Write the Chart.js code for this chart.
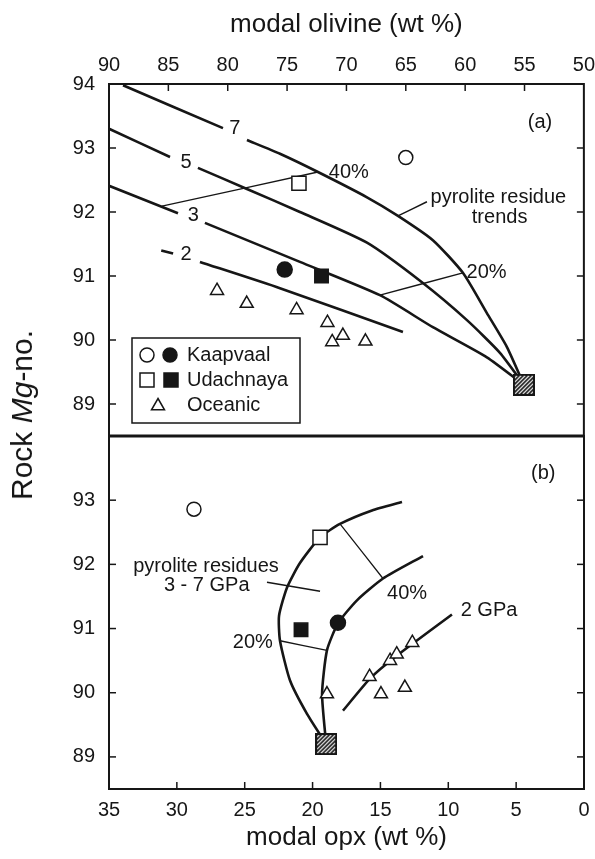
<!DOCTYPE html>
<html>
<head>
<meta charset="utf-8">
<script src="https://cdn.jsdelivr.net/npm/chart.js@4.4.1/dist/chart.umd.min.js"></script>
<style>
  html, body { margin: 0; padding: 0; background: #fff; }
  #wrap { position: relative; width: 595px; height: 859px; overflow: hidden; }
  canvas { position: absolute; left: 0; }
  #chartA { top: 0; }
  #chartB { top: 430px; }
  #ylab {
    position: absolute; left: 22px; top: 415px;
    transform: translate(-50%, -50%) rotate(-90deg);
    font: 30px 'Liberation Sans', Arial, sans-serif; color: #161616; white-space: nowrap;
  }
</style>
</head>
<body>
<div id="wrap">
  <canvas id="chartA" width="595" height="440"></canvas>
  <canvas id="chartB" width="595" height="429"></canvas>
  <div id="ylab">Rock <i>Mg</i>-no.</div>
</div>
<script>
// ---- panel (a): modal olivine vs Mg-no. ----
const oliveTicks = [50, 55, 60, 65, 70, 75, 80, 85, 90];
const mgTicksA = [89, 90, 91, 92, 93, 94];

const kaapOpenA = [[65.0, 92.85]];
const kaapFilledA = [[75.2, 91.1]];
const udachOpenA = [[74.0, 92.45]];
const udachFilledA = [[72.1, 91.0]];
const oceanicA = [[80.9, 90.77], [78.4, 90.57], [74.2, 90.47], [71.6, 90.27], [70.3, 90.07], [71.2, 89.97], [68.4, 89.98]];
const pyroliteA = [[55.05, 89.3]];

// residue trends, null = gap left for the pressure label
const trend7 = [[88.82, 93.98], [80.4, 93.31], null, [78.38, 93.125], [75.6, 92.91], [72.4, 92.625], [68.27, 92.23], [65.66, 91.94], [62.72, 91.56], [60.19, 91.05], [58.17, 90.42], [56.48, 89.89], [55.05, 89.3]];
const trend5 = [[90, 93.3], [84.86, 92.86], null, [82.51, 92.69], [78.38, 92.36], [73.92, 92.0], [68.27, 91.52], [63.56, 90.89], [59.85, 90.31], [57.07, 89.8], [55.05, 89.3]];
const trend3 = [[90, 92.41], [84.19, 91.98], null, [81.92, 91.83], [73.92, 91.22], [67.18, 90.7], [62.72, 90.2], [58.17, 89.73], [55.05, 89.3]];
const trend2 = [[85.6, 91.4], [84.6, 91.35], null, [82.34, 91.22], [75.6, 90.81], [65.24, 90.125]];
const tie40A = [[85.54, 92.09], [72.4, 92.625]];
const tie20A = [[67.18, 90.7], [60.19, 91.05]];
const leaderA = [[65.66, 91.94], [63.22, 92.16]];

// ---- panel (b): modal opx vs Mg-no. ----
const opxTicks = [0, 5, 10, 15, 20, 25, 30, 35];
const mgTicksB = [89, 90, 91, 92, 93];

const kaapOpenB = [[28.74, 92.86]];
const kaapFilledB = [[18.13, 91.09]];
const udachOpenB = [[19.45, 92.42]];
const udachFilledB = [[20.85, 90.98]];
const oceanicB = [[18.94, 89.98], [15.8, 90.25], [14.29, 90.5], [13.8, 90.6], [12.65, 90.78], [14.96, 89.98], [13.2, 90.08]];
const pyroliteB = [[19.0, 89.2]];

const outerB = [[13.41, 92.97], [15.62, 92.84], [17.98, 92.63], [19.45, 92.42], [20.93, 92.02], [21.88, 91.64], [22.47, 91.2], [22.4, 90.81], [21.66, 90.19], [20.41, 89.67], [19.0, 89.2]];
const innerB = [[11.86, 92.13], [14.81, 91.78], [16.73, 91.44], [18.13, 91.08], [18.94, 90.66], [19.3, 89.98], [19.0, 89.2]];
const gpa2B = [[17.76, 89.72], [15.77, 90.22], [13.78, 90.58], [9.73, 91.22]];
const tie40B = [[17.98, 92.63], [14.81, 91.78]];
const tie20B = [[22.4, 90.81], [18.94, 90.66]];
const leaderB = [[23.36, 91.72], [19.45, 91.58]];

const INK = '#161616';
const FONT = "'Liberation Sans', Arial, sans-serif";

const toXY = pts => pts.map(p => p ? { x: p[0], y: p[1] } : { x: null, y: null });

function marks(pts, style, fill, r) {
  return {
    data: toXY(pts), showLine: false, order: 0,
    pointStyle: style, pointRadius: r, pointHoverRadius: r,
    pointBackgroundColor: fill, pointBorderColor: INK, pointBorderWidth: 1.5
  };
}
function curve(pts, w) {
  return {
    data: toXY(pts), showLine: true, spanGaps: false, order: 10,
    pointRadius: 0, borderColor: INK, borderWidth: w, tension: 0.2
  };
}

function hatchSquare(size) {
  const c = document.createElement('canvas');
  c.width = size; c.height = size;
  const g = c.getContext('2d');
  g.fillStyle = '#fff';
  g.fillRect(0, 0, size, size);
  g.save();
  g.beginPath(); g.rect(0, 0, size, size); g.clip();
  g.strokeStyle = INK; g.lineWidth = 1.6;
  for (let k = -size; k < size * 2; k += 4) {
    g.beginPath(); g.moveTo(k, size); g.lineTo(k + size, 0); g.stroke();
  }
  g.restore();
  g.strokeStyle = INK; g.lineWidth = 2;
  g.strokeRect(1, 1, size - 2, size - 2);
  return c;
}
const hatch = hatchSquare(22);

function symbol(ctx, kind, x, y, fill) {
  ctx.beginPath();
  if (kind === 'circle') ctx.arc(x, y, 7, 0, Math.PI * 2);
  else if (kind === 'rect') ctx.rect(x - 7, y - 7, 14, 14);
  else { ctx.moveTo(x, y - 7.5); ctx.lineTo(x + 6.5, y + 3.75); ctx.lineTo(x - 6.5, y + 3.75); ctx.closePath(); }
  ctx.fillStyle = fill; ctx.fill();
  ctx.lineWidth = 1.5; ctx.strokeStyle = INK; ctx.stroke();
}

const paperPlugin = {
  id: 'paper',
  afterDraw(chart, args, opts) {
    const { ctx, chartArea: a, scales } = chart;
    const sx = scales.x, sy = scales.y;
    const seg = (x1, y1, x2, y2) => { ctx.beginPath(); ctx.moveTo(x1, y1); ctx.lineTo(x2, y2); ctx.stroke(); };
    ctx.save();
    ctx.strokeStyle = INK;
    ctx.lineWidth = 1.5;
    sy.ticks.forEach(t => {
      if (t.value <= sy.min || t.value >= sy.max) return;
      const py = sy.getPixelForValue(t.value);
      seg(a.left, py, a.left + 7, py);
      seg(a.right, py, a.right - 7, py);
    });
    sx.ticks.forEach(t => {
      if (t.value <= sx.min || t.value >= sx.max) return;
      const px = sx.getPixelForValue(t.value);
      if (opts.xSide === 'top') seg(px, a.top, px, a.top + 7);
      else seg(px, a.bottom, px, a.bottom - 7);
    });
    ctx.lineWidth = 2;
    ctx.strokeRect(a.left, a.top, a.width, a.height);
    if (opts.divider) { ctx.lineWidth = 3; seg(a.left, a.bottom, a.right, a.bottom); }

    ctx.fillStyle = INK;
    ctx.textAlign = 'center';
    ctx.textBaseline = 'middle';
    ctx.font = '20px ' + FONT;
    opts.notes.forEach(n => {
      ctx.fillText(n.text, sx.getPixelForValue(n.x), sy.getPixelForValue(n.y));
    });

    if (opts.legend) {
      const bx = a.left + 23, by = a.top + 254, bw = 168, bh = 85;
      ctx.fillStyle = '#fff';
      ctx.fillRect(bx, by, bw, bh);
      ctx.lineWidth = 1.5;
      ctx.strokeRect(bx, by, bw, bh);
      symbol(ctx, 'circle', bx + 15, by + 17, '#fff');
      symbol(ctx, 'circle', bx + 38, by + 17, INK);
      symbol(ctx, 'rect', bx + 15, by + 42, '#fff');
      symbol(ctx, 'rect', bx + 39, by + 42, INK);
      symbol(ctx, 'tri', bx + 26, by + 68, '#fff');
      ctx.fillStyle = INK;
      ctx.textAlign = 'left';
      ctx.font = '20px ' + FONT;
      ctx.fillText('Kaapvaal', bx + 55, by + 17);
      ctx.fillText('Udachnaya', bx + 55, by + 42);
      ctx.fillText('Oceanic', bx + 55, by + 67);
    }
    ctx.restore();
  }
};

const tickFont = { family: FONT, size: 20 };
const isLabel = (v, list) => Math.abs(v - Math.round(v)) < 1e-6 && list.includes(Math.round(v));

// label gap comes from an invisible tick length
function mgScale(list) {
  return {
    type: 'linear', min: 88.5, max: 94,
    grid: { display: false, drawTicks: true, tickLength: 14 },
    border: { display: false },
    ticks: { stepSize: 0.5, autoSkip: false, font: tickFont, color: INK, padding: 0,
      callback: v => isLabel(v, list) ? String(Math.round(v)) : null },
    afterFit: s => { s.width = 109; s.paddingTop = 0; s.paddingBottom = 0; }
  };
}
function compScale(pos, lo, hi, list, title, gap, titlePad, h) {
  return {
    type: 'linear', position: pos, min: lo, max: hi, reverse: true,
    grid: { display: false, drawTicks: true, tickLength: gap },
    border: { display: false },
    ticks: { stepSize: 5, autoSkip: false, maxRotation: 0, font: tickFont, color: INK, padding: 0,
      callback: v => isLabel(v, list) ? String(Math.round(v)) : null },
    title: { display: true, text: title, color: INK, font: { family: FONT, size: 26 }, padding: titlePad },
    afterFit: s => { s.height = h; }
  };
}

const common = {
  responsive: false, animation: false, devicePixelRatio: 1, events: [],
  plugins: { legend: { display: false }, tooltip: { enabled: false } }
};

new Chart(document.getElementById('chartA'), {
  type: 'scatter',
  data: {
    datasets: [
      marks(pyroliteA, hatch, '#fff', 11),
      marks(kaapOpenA, 'circle', '#fff', 7),
      marks(kaapFilledA, 'circle', INK, 7.5),
      marks(udachOpenA, 'rect', '#fff', 10),
      marks(udachFilledA, 'rect', INK, 9.5),
      marks(oceanicA, 'triangle', '#fff', 7.5),
      curve(trend7, 2.6), curve(trend5, 2.6), curve(trend3, 2.6), curve(trend2, 2.6),
      curve(tie40A, 1.3), curve(tie20A, 1.3), curve(leaderA, 1.5)
    ]
  },
  plugins: [paperPlugin],
  options: {
    ...common,
    layout: { autoPadding: false, padding: { top: 0, right: 11, bottom: 4, left: 0 } },
    scales: {
      x: compScale('top', 50, 90, oliveTicks, 'modal olivine (wt %)', 7, { top: 9, bottom: 0 }, 84),
      y: mgScale(mgTicksA)
    },
    plugins: {
      ...common.plugins,
      paper: {
        xSide: 'top', divider: true, legend: true,
        notes: [
          { text: '(a)', x: 53.7, y: 93.4 },
          { text: '7', x: 79.4, y: 93.31 },
          { text: '5', x: 83.5, y: 92.78 },
          { text: '3', x: 82.9, y: 91.95 },
          { text: '2', x: 83.5, y: 91.33 },
          { text: '40%', x: 69.8, y: 92.62 },
          { text: '20%', x: 58.2, y: 91.05 },
          { text: 'pyrolite residue', x: 57.2, y: 92.23 },
          { text: 'trends', x: 57.1, y: 91.92 }
        ]
      }
    }
  }
});

new Chart(document.getElementById('chartB'), {
  type: 'scatter',
  data: {
    datasets: [
      marks(pyroliteB, hatch, '#fff', 11),
      marks(kaapOpenB, 'circle', '#fff', 7),
      marks(kaapFilledB, 'circle', INK, 7.5),
      marks(udachOpenB, 'rect', '#fff', 10),
      marks(udachFilledB, 'rect', INK, 9.5),
      marks(oceanicB, 'triangle', '#fff', 7.5),
      curve(outerB, 2.6), curve(innerB, 2.6), curve(gpa2B, 2.6),
      curve(tie40B, 1.3), curve(tie20B, 1.3), curve(leaderB, 1.5)
    ]
  },
  plugins: [paperPlugin],
  options: {
    ...common,
    layout: { autoPadding: false, padding: { top: 6, right: 11, bottom: 0, left: 0 } },
    scales: {
      x: compScale('bottom', 0, 35, opxTicks, 'modal opx (wt %)', 9, { top: 0, bottom: 6 }, 70),
      y: mgScale(mgTicksB)
    },
    plugins: {
      ...common.plugins,
      paper: {
        xSide: 'bottom', divider: false, legend: false,
        notes: [
          { text: '(b)', x: 3.0, y: 93.42 },
          { text: 'pyrolite residues', x: 27.85, y: 91.97 },
          { text: '3 - 7 GPa', x: 27.8, y: 91.67 },
          { text: '40%', x: 13.04, y: 91.55 },
          { text: '2 GPa', x: 7.0, y: 91.28 },
          { text: '20%', x: 24.4, y: 90.78 }
        ]
      }
    }
  }
});
</script>
</body>
</html>
